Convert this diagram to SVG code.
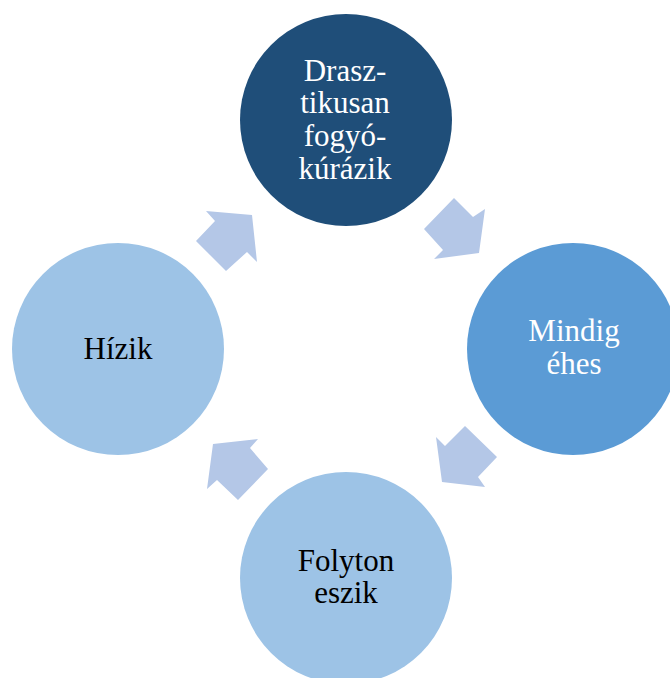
<svg xmlns="http://www.w3.org/2000/svg" width="670" height="678" viewBox="0 0 670 678">
<style>
.lbl{font-family:"Liberation Serif","Times New Roman",serif;font-size:31px;text-anchor:middle}
.w{fill:#ffffff}
.k{fill:#000000}
.arr{fill:#B4C7E7}
</style>
<rect width="670" height="678" fill="#ffffff"/>
<g id="connectors">
<polygon class="arr" points="196,241 215,221 206,211 252,215 257,262 247,252 226,271"/>
<polygon class="arr" points="454,198 473,217 485,209 479,253 434,259 443,250 424,229"/>
<polygon class="arr" points="497,457 478,477 485,487 442,482 436,437 445,446 465,426"/>
<polygon class="arr" points="238,500 217,480 207,489 213,444 258,439 250,448 268,469"/>
</g>
<g id="node-top">
<circle cx="346" cy="120" r="106" fill="#1F4E79"/>
<text class="lbl w" x="345" y="81">Drasz-</text>
<text class="lbl w" x="345" y="113">tikusan</text>
<text class="lbl w" x="345" y="146">fogyó-</text>
<text class="lbl w" x="345" y="179">kúrázik</text>
</g>
<g id="node-right">
<circle cx="573" cy="349" r="106" fill="#5B9BD5"/>
<text class="lbl w" x="574" y="341">Mindig</text>
<text class="lbl w" x="574" y="374">éhes</text>
</g>
<g id="node-bottom">
<circle cx="346" cy="578" r="106" fill="#9DC3E6"/>
<text class="lbl k" x="346" y="571">Folyton</text>
<text class="lbl k" x="346" y="603">eszik</text>
</g>
<g id="node-left">
<circle cx="118" cy="349" r="106" fill="#9DC3E6"/>
<text class="lbl k" x="118" y="359">Hízik</text>
</g>
</svg>
